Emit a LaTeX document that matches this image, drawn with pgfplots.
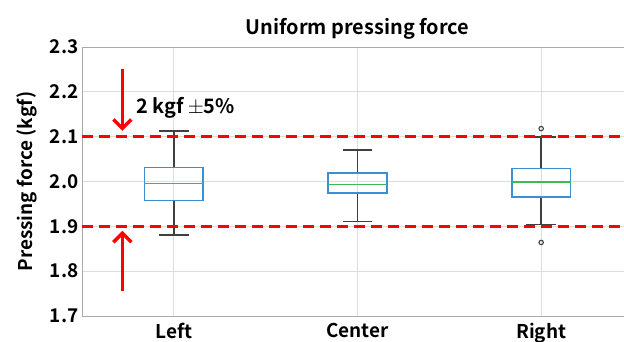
\documentclass[border=0pt]{standalone}
\usepackage{fontspec}
\setmainfont{Noto Sans CJK KR}[BoldFont={Noto Sans CJK KR Bold}]
\usepackage{pgfplots}
\pgfplotsset{compat=1.18}
\usepgfplotslibrary{statistics}
\usetikzlibrary{arrows.meta}
\definecolor{boxblue}{HTML}{3B8FD6}
\definecolor{medgreen}{HTML}{3DB85A}
\definecolor{gridgray}{HTML}{DDDDDD}
\definecolor{axgray}{HTML}{AAAAAA}
\begin{document}
\begin{tikzpicture}
\begin{axis}[
  at={(0,0)}, anchor=south west,
  scale only axis, width=551bp, height=269bp,
  xmin=-0.5, xmax=2.5, ymin=1.7, ymax=2.3,
  xtick={0,1,2}, xticklabels={Left,Center,Right},
  ytick={1.7,1.8,...,2.3},
  yticklabel style={/pgf/number format/fixed,/pgf/number format/fixed zerofill,/pgf/number format/precision=1},
  /pgf/number format/assume math mode=true,
  tick label style={font=\fontsize{19}{19}\selectfont\bfseries},
  xticklabel style={yshift=-4bp},
  ylabel={Pressing force (kgf)},
  ylabel style={font=\fontsize{19}{19}\selectfont\bfseries, yshift=6bp},
  title={Uniform pressing force},
  title style={font=\fontsize{20}{20}\selectfont\bfseries, yshift=-2bp},
  grid=major, major grid style={gridgray, line width=0.8bp},
  axis line style={axgray, line width=0.8bp},
  tick style={draw=none},
  clip=false,
  boxplot/draw direction=y,
  boxplot/every box/.style={draw=boxblue, line width=1.6bp},
  boxplot/every median/.style={draw=medgreen, line width=1.3bp},
  boxplot/every whisker/.style={draw=black!75, line width=1.7bp},
  boxplot/box extend=0.32,
  boxplot/whisker extend=0.16,
]
\addplot+[black!75, line width=1.6bp, mark=o, mark size=2.2bp, mark options={line width=1.1bp, draw=black!75, fill=none},
  boxplot prepared={draw position=0, lower whisker=1.880, lower quartile=1.958, median=1.996, upper quartile=2.031, upper whisker=2.112}]
  coordinates {};
\addplot+[black!75, line width=1.6bp, mark=o, mark size=2.2bp, mark options={line width=1.1bp, draw=black!75, fill=none},
  boxplot prepared={draw position=1, lower whisker=1.911, lower quartile=1.974, median=1.993, upper quartile=2.019, upper whisker=2.070}]
  coordinates {};
\addplot+[black!75, line width=1.6bp, mark=o, mark size=2.2bp, mark options={line width=1.1bp, draw=black!75, fill=none},
  boxplot prepared={draw position=2, lower whisker=1.904, lower quartile=1.966, median=1.999, upper quartile=2.029, upper whisker=2.099}]
  coordinates {(2,2.118) (2,1.864)};
\addplot[red, line width=2.6bp, dash pattern=on 11bp off 6bp] coordinates {(-0.5,2.1) (2.5,2.1)};
\addplot[red, line width=2.6bp, dash pattern=on 11bp off 6bp] coordinates {(-0.5,1.9) (2.5,1.9)};
\draw[red, line width=3.4bp, -{Straight Barb[length=9bp, width=18bp, line width=3.4bp]}] (axis cs:-0.28,2.251) -- (axis cs:-0.28,2.113);
\draw[red, line width=3.4bp, -{Straight Barb[length=9bp, width=18bp, line width=3.4bp]}] (axis cs:-0.28,1.756) -- (axis cs:-0.28,1.890);
\node[anchor=west, font=\fontsize{20}{20}\selectfont\bfseries, inner sep=0pt] at (axis cs:-0.207,2.165) {2 kgf $\pm$5\%};
\end{axis}
\pgfresetboundingbox
\path[use as bounding box] (-82bp,-26bp) rectangle (542bp,316bp);
\end{tikzpicture}
\end{document}
